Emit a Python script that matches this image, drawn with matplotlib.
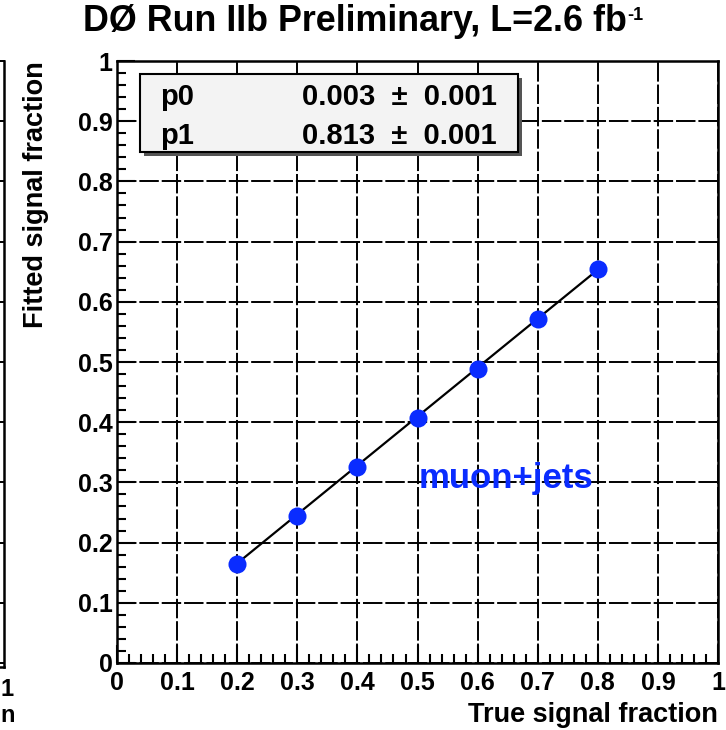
import matplotlib
matplotlib.use("Agg")
import matplotlib.pyplot as plt
from matplotlib.patches import Rectangle
from matplotlib.lines import Line2D
from matplotlib.ticker import MultipleLocator

plt.rcParams["font.family"] = ["Liberation Sans", "DejaVu Sans"]
plt.rcParams["font.weight"] = "bold"

# generated vs fitted signal fraction (muon+jets ensembles)
true_frac = [0.2, 0.3, 0.4, 0.5, 0.6, 0.7, 0.8]
fitted_frac = [0.165, 0.245, 0.326, 0.407, 0.488, 0.572, 0.654]

# linear fit parameters
p0, p0_err = 0.003, 0.001
p1, p1_err = 0.813, 0.001

fig = plt.figure(figsize=(7.26, 7.30), dpi=100)
ax = fig.add_axes([0.1612, 0.0918, 0.8278, 0.8246])

ax.set_xlim(0, 1)
ax.set_ylim(0, 1)
ax.xaxis.set_major_locator(MultipleLocator(0.1))
ax.yaxis.set_major_locator(MultipleLocator(0.1))
ax.xaxis.set_minor_locator(MultipleLocator(0.02))
ax.yaxis.set_minor_locator(MultipleLocator(0.02))
ax.xaxis.set_major_formatter(lambda v, pos: f"{v:g}")
ax.yaxis.set_major_formatter(lambda v, pos: f"{v:g}")

ax.tick_params(which="major", direction="in", length=13, width=1.5,
               labelsize=18, top=False, right=False)
ax.tick_params(axis="y", which="major", pad=3)
ax.tick_params(axis="x", which="major", pad=6)
ax.tick_params(which="minor", direction="in", length=6.5, width=1.5,
               top=False, right=False)
for lab in ax.get_xticklabels() + ax.get_yticklabels():
    lab.set_fontweight("bold")
for sp in ax.spines.values():
    sp.set_linewidth(1.8)

ax.grid(True, which="major", color="black", linewidth=1.4,
        linestyle=(0, (10, 1.5)))
ax.set_axisbelow(True)

# fitted line over the sampled range
xs = [true_frac[0], true_frac[-1]]
ax.plot(xs, [p0 + p1 * x for x in xs], color="black", linewidth=1.6, zorder=3)
ax.plot(true_frac, fitted_frac, "o", color="#0a2cff", markersize=13,
        markeredgewidth=0, zorder=4)

ax.text(0.502, 0.307, "muon+jets", color="#0a2cff", fontsize=25,
        fontweight="bold", va="center", ha="left", zorder=5)

# fit statistics box with drop shadow
bx0, by0, bw, bh = 0.038, 0.849, 0.629, 0.129
ax.add_patch(Rectangle((bx0 + 0.007, by0 - 0.007), bw, bh, transform=ax.transAxes,
                       facecolor="#555555", edgecolor="none", zorder=6))
ax.add_patch(Rectangle((bx0, by0), bw, bh, transform=ax.transAxes,
                       facecolor="#f3f3f3", edgecolor="black", linewidth=1.5, zorder=7))
box_rows = [("p0", p0, p0_err, 0.940), ("p1", p1, p1_err, 0.876)]
for name, val, err, yrow in box_rows:
    ax.text(0.072, yrow, name, transform=ax.transAxes, fontsize=21,
            fontweight="bold", va="center", zorder=8)
    ax.text(0.632, yrow, f"{val:.3f}  ±  {err:.3f}", transform=ax.transAxes,
            fontsize=21, fontweight="bold", va="center", ha="right", zorder=8)

ax.set_xlabel("True signal fraction", fontsize=19.5, fontweight="bold")
ax.xaxis.set_label_coords(1.0, -0.065)
ax.xaxis.label.set_horizontalalignment("right")
ax.set_ylabel("Fitted signal fraction", fontsize=19.5, fontweight="bold")
ax.yaxis.set_label_coords(-0.113, 1.0)
ax.yaxis.label.set_horizontalalignment("right")

# title with a small superscript placed after the main text
title = fig.text(0.489, 0.970, "DØ Run IIb Preliminary, L=2.6 fb",
                 fontsize=25.8, fontweight="bold", ha="center", va="center")
fig.canvas.draw()
tb = title.get_window_extent().transformed(fig.transFigure.inverted())
fig.text(tb.x1 + 0.001, tb.y1 - 0.004, "-1", fontsize=13, fontweight="bold",
         ha="left", va="top")

# right edge of the neighbouring panel
W, H = 726.0, 730.0
edge_x = 4 / W
fig.add_artist(Line2D([edge_x, edge_x], [1 - 61 / H, 1 - 667 / H],
                      color="black", linewidth=1.8))
fig.add_artist(Line2D([0, edge_x], [1 - 667 / H, 1 - 667 / H],
                      color="black", linewidth=1.8))
for k in range(11):
    yk = 1 - (61 + k * 60.2) / H
    fig.add_artist(Line2D([0, edge_x], [yk, yk], color="black", linewidth=1.4))
fig.text(0.0, 1 - 690 / H, "1", fontsize=17, fontweight="bold",
         ha="left", va="center")
fig.text(0.0, 1 - 716 / H, "n", fontsize=17, fontweight="bold",
         ha="left", va="center")

fig.savefig("out.png", dpi=100)
